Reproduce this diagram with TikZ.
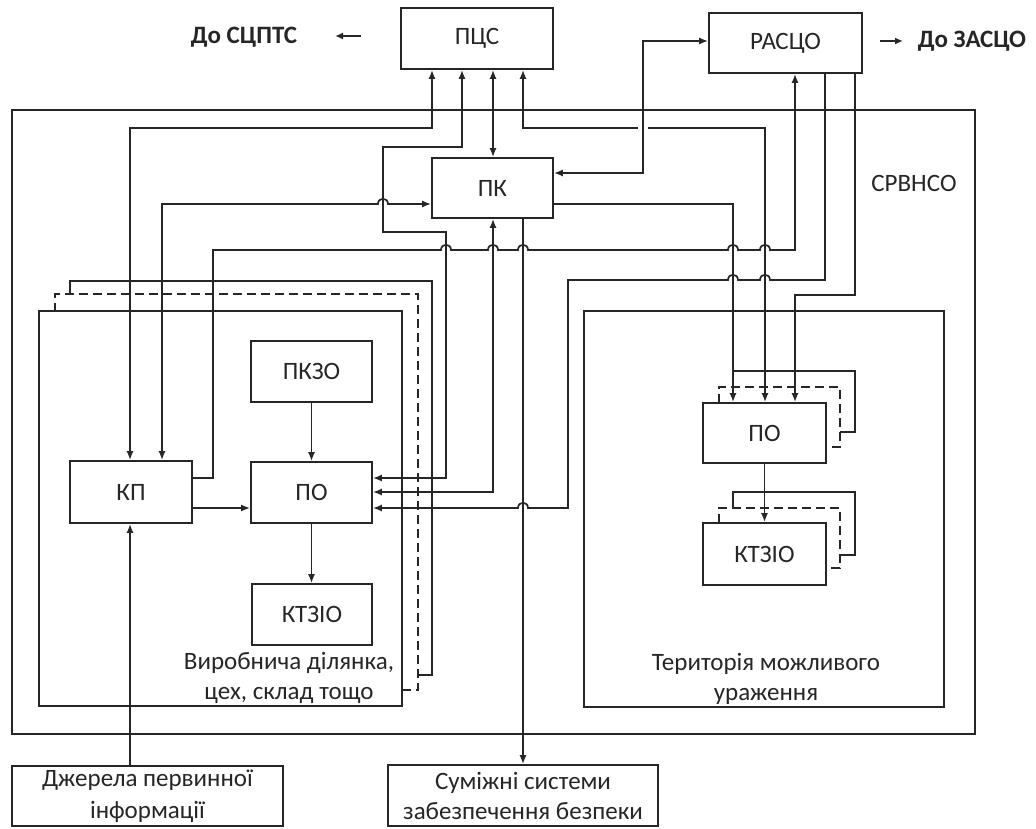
\documentclass[tikz,border=0pt]{standalone}
\usepackage{fontspec}
\setmainfont{Carlito}
\usetikzlibrary{arrows.meta}
\begin{document}
\begin{tikzpicture}[x=1pt,y=-1pt,
  ln/.style={line width=1.7pt, draw=black!85},
  box/.style={ln, fill=white, inner sep=0pt, text=black!85, font=\fontsize{25}{29}\selectfont},
  lbl/.style={inner sep=0pt, font=\fontsize{25}{30}\selectfont, align=center, text=black!85},
  arr/.style={ln, -{Latex[length=9pt,width=7pt]}},
  darr/.style={ln, {Latex[length=9pt,width=7pt]}-{Latex[length=9pt,width=7pt]}},
  dsh/.style={ln, dash pattern=on 9pt off 5pt},
]
\useasboundingbox (0,0) rectangle (1036,828);
% outer and area frames
\draw[ln] (12,110) rectangle (975,734);
\draw[ln] (39,311) rectangle (402,706);
\draw[ln] (584,311) rectangle (944,707);
% stacks behind the left area
\draw[dsh] (402,690) -- (418,690) -- (418,294) -- (55,294) -- (55,311);
\draw[ln] (418,675) -- (432,675) -- (432,281) -- (70,281) -- (70,294);
% stacks behind the right boxes
\draw[dsh] (719,403) -- (719,387) -- (840,387) -- (840,447) -- (826,447);
\draw[ln] (733,387) -- (733,371) -- (855,371) -- (855,432) -- (840,432);
\draw[dsh] (719,523) -- (719,508) -- (840,508) -- (840,568) -- (826,568);
\draw[ln] (733,508) -- (733,492) -- (855,492) -- (855,555) -- (840,555);
% boxes
\node[box, minimum width=152pt, minimum height=61pt] (pcs) at (477,38.5) {ПЦС};
\node[box, minimum width=153pt, minimum height=60pt] (rasco) at (785.5,43) {РАСЦО};
\node[box, minimum width=121pt, minimum height=60pt] (pk) at (492.5,188) {ПК};
\node[box, minimum width=121pt, minimum height=61pt] (pkzo) at (311.5,371.5) {ПКЗО};
\node[box, minimum width=121pt, minimum height=61pt] (poL) at (311.5,492.5) {ПО};
\node[box, minimum width=122pt, minimum height=62pt] (kp) at (131,492) {КП};
\node[box, minimum width=120pt, minimum height=61pt] (ktzioL) at (312,614.5) {КТЗІО};
\node[box, minimum width=123pt, minimum height=60pt] (poR) at (764.5,433) {ПО};
\node[box, minimum width=123pt, minimum height=62pt] (ktzioR) at (764.5,554) {КТЗІО};
\node[box, minimum width=271pt, minimum height=60pt, align=center, font=\fontsize{25}{32}\selectfont] (dzh) at (147.5,796) {Джерела первинної\\інформації};
\node[box, minimum width=270pt, minimum height=61pt, align=center, font=\fontsize{25}{30}\selectfont] (sum) at (523,795.5) {Суміжні системи\\забезпечення безпеки};
% labels
\node[lbl] (lprod) at (289,678) {Виробнича ділянка,\\цех, склад тощо};
\node[lbl] (lterr) at (766,679) {Територія можливого\\ураження};
\node[lbl] (lsys) at (914,183) {СРВНСО};
\node[lbl, font=\fontsize{25}{29}\bfseries] (lsc) at (244,37) {До СЦПТС};
\node[lbl, font=\fontsize{25}{29}\bfseries] (lza) at (972,41) {До ЗАСЦО};
\coordinate (a1) at (361,36);
\coordinate (a2) at (335,36);
\coordinate (b1) at (880,41);
\coordinate (b2) at (903,41);
\draw[ln, -{Latex[length=8pt,width=7pt]}] (a1) -- (a2);
\draw[ln, -{Latex[length=8pt,width=7pt]}] (b1) -- (b2);
% connectors
\draw[darr] (432,0 |- pcs.south) -- (432,128) -- (130,128) -- (130,0 |- kp.north);
\draw[darr] (462,0 |- pcs.south) -- (462,147) -- (383,147) -- (383,232) -- (446,232) -- (446,478) -- (poL.east |- 0,478);
\draw[darr] (493,0 |- pcs.south) -- (493,0 |- pk.north);
\draw[ln, {Latex[length=9pt,width=7pt]}-] (523,0 |- pcs.south) -- (523,128) -- (638,128);
\draw[arr] (648,128) -- (765,128) -- (765,0 |- poR.north);
\draw[darr] (pk.west |- 0,204) -- (388,204) .. controls (388,197) and (378,197) .. (378,204) -- (162,204) -- (162,0 |- kp.north);
\draw[arr] (kp.east |- 0,478) -- (213,478) -- (213,250) -- (441,250)
  .. controls (441,243) and (451,243) .. (451,250) -- (488,250)
  .. controls (488,243) and (498,243) .. (498,250) -- (518,250)
  .. controls (518,243) and (528,243) .. (528,250) -- (728,250)
  .. controls (728,243) and (738,243) .. (738,250) -- (760,250)
  .. controls (760,243) and (770,243) .. (770,250) -- (795,250) -- (795,0 |- rasco.south);
\draw[darr] (493,0 |- pk.south) -- (493,492) -- (poL.east |- 0,492);
\draw[darr] (pk.east |- 0,173) -- (643,173) -- (643,41) -- (rasco.west |- 0,41);
\draw[arr] (pk.east |- 0,204) -- (733,204) -- (733,0 |- poR.north);
\draw[arr] (825,0 |- rasco.south) -- (825,280) -- (770,280)
  .. controls (770,273) and (760,273) .. (760,280) -- (738,280)
  .. controls (738,273) and (728,273) .. (728,280) -- (568,280) -- (568,508) -- (528,508)
  .. controls (528,501) and (518,501) .. (518,508) -- (poL.east |- 0,508);
\draw[arr] (855,0 |- rasco.south) -- (855,295) -- (795,295) -- (795,0 |- poR.north);
\draw[arr] (523,0 |- pk.south) -- (523,0 |- sum.north);
\draw[arr] (130,0 |- dzh.north) -- (130,0 |- kp.south);
\draw[arr] (pkzo) -- (poL);
\draw[arr] (poL.south) -- (poL.south |- ktzioL.north);
\draw[arr] (kp.east |- 0,508) -- (poL.west |- 0,508);
\draw[arr] (poR) -- (ktzioR);
\end{tikzpicture}
\end{document}
